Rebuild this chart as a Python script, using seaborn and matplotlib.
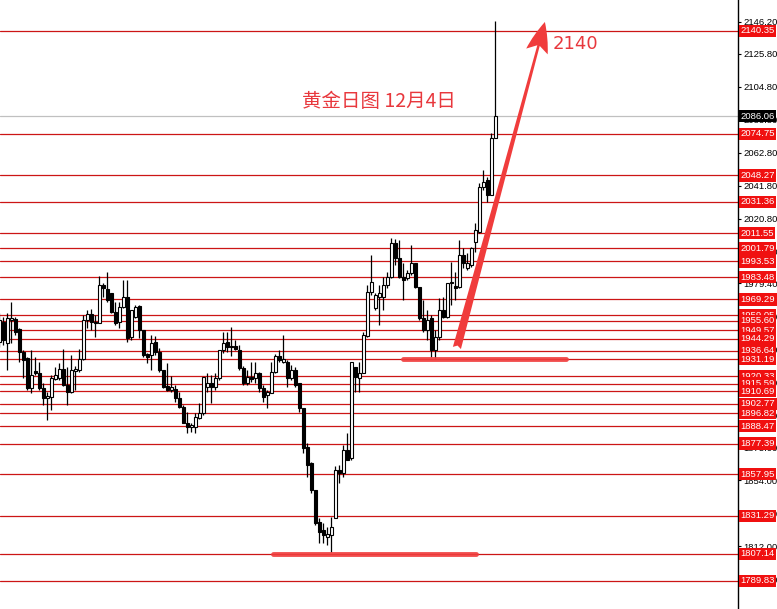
import numpy as np
import pandas as pd
import seaborn as sns
import matplotlib.pyplot as plt

# daily gold candles (open / high / low / close)
opens = [1942.3, 1955.1, 1941.3, 1956.1, 1956.6, 1950.2, 1935.9, 1931.7, 1912.6, 1923.6,
         1922.1, 1912.6, 1906.2, 1907.3, 1918.5, 1919.0, 1924.7, 1914.7, 1910.5, 1923.6,
         1924.3, 1931.1, 1956.1, 1960.0, 1954.7, 1954.4, 1978.5, 1975.7, 1973.1, 1961.5,
         1955.1, 1964.7, 1971.0, 1945.5, 1958.3, 1965.1, 1949.8, 1934.3, 1933.8, 1942.1,
         1935.9, 1924.3, 1914.3, 1911.5, 1911.9, 1906.2, 1900.9, 1890.7, 1888.1, 1888.1,
         1893.5, 1896.6, 1913.6, 1916.2, 1913.6, 1919.0, 1937.0, 1942.3, 1939.6, 1939.6,
         1937.0, 1925.5, 1916.0, 1919.9, 1919.2, 1922.4, 1912.8, 1908.3, 1909.6, 1923.0,
         1933.2, 1929.4, 1929.4, 1919.2, 1924.3, 1916.0, 1900.1, 1875.2, 1865.0, 1847.8,
         1827.4, 1822.3, 1817.8, 1819.1, 1829.9, 1860.5, 1858.6, 1873.3, 1868.2, 1926.2,
         1919.2, 1922.4, 1946.0, 1974.0, 1963.8, 1970.8, 1970.8, 1978.4, 1983.5, 2005.2,
         1995.6, 1983.5, 1982.9, 1986.1, 1992.5, 1977.2, 1957.4, 1949.7, 1957.4, 1937.0,
         1945.3, 1962.5, 1958.0, 1979.7, 1977.8, 1977.2, 1997.6, 1989.3, 1991.2, 2005.9,
         2012.2, 2040.9, 2045.4, 2035.8, 2072.1]
highs = [1960.4, 1958.3, 1960.4, 1967.8, 1958.3, 1950.8, 1937.0, 1932.8, 1937.0, 1932.8,
         1929.6, 1915.8, 1910.5, 1921.1, 1926.4, 1928.5, 1937.4, 1926.4, 1933.8, 1926.8,
         1937.4, 1959.3, 1962.5, 1962.9, 1959.3, 1984.2, 1979.9, 1987.0, 1973.1, 1967.8,
         1967.8, 1981.7, 1981.7, 1962.5, 1965.7, 1965.7, 1949.8, 1934.9, 1946.6, 1945.9,
         1938.1, 1924.3, 1928.5, 1920.4, 1914.7, 1910.5, 1901.9, 1897.7, 1890.3, 1896.6,
         1903.4, 1919.6, 1922.1, 1921.1, 1922.1, 1937.0, 1948.7, 1948.7, 1951.9, 1943.4,
         1940.2, 1926.8, 1924.3, 1929.4, 1929.4, 1923.0, 1914.7, 1911.5, 1929.4, 1934.5,
         1937.0, 1946.6, 1930.6, 1927.5, 1926.2, 1916.0, 1900.1, 1877.8, 1865.6, 1847.8,
         1829.9, 1826.7, 1824.2, 1830.6, 1863.1, 1863.7, 1876.5, 1884.1, 1929.4, 1926.2,
         1929.4, 1948.5, 1978.4, 1997.6, 1973.3, 1978.4, 1983.5, 1986.7, 2008.4, 2007.8,
         2007.1, 1992.5, 1988.0, 2003.9, 1992.5, 1977.2, 1968.9, 1962.5, 1959.3, 1949.7,
         1970.2, 1970.8, 1979.7, 1993.1, 1986.7, 2007.1, 2002.0, 1998.8, 2002.6, 2017.9,
         2043.4, 2051.7, 2047.3, 2075.3, 2146.7]
lows = [1939.1, 1940.2, 1924.3, 1941.3, 1946.6, 1929.6, 1919.0, 1911.5, 1909.4, 1921.1,
        1911.5, 1901.9, 1892.4, 1898.8, 1917.9, 1917.9, 1914.1, 1901.9, 1909.4, 1911.5,
        1923.2, 1930.6, 1950.8, 1949.8, 1945.1, 1954.0, 1971.0, 1967.8, 1960.4, 1953.0,
        1950.8, 1963.6, 1942.3, 1943.4, 1957.2, 1944.5, 1932.8, 1928.5, 1924.3, 1933.8,
        1923.2, 1912.6, 1911.1, 1910.5, 1904.1, 1899.8, 1890.3, 1883.9, 1885.0, 1883.9,
        1892.8, 1895.6, 1910.5, 1903.0, 1911.5, 1917.9, 1934.9, 1935.9, 1933.2, 1937.0,
        1924.3, 1914.7, 1914.7, 1916.6, 1916.0, 1910.2, 1903.9, 1900.1, 1909.6, 1922.4,
        1929.4, 1929.0, 1913.4, 1917.9, 1913.4, 1897.5, 1871.4, 1856.1, 1845.9, 1825.5,
        1814.0, 1814.0, 1812.7, 1808.2, 1829.9, 1852.2, 1856.1, 1866.9, 1866.9, 1910.2,
        1910.2, 1922.4, 1945.3, 1972.1, 1962.5, 1952.9, 1962.5, 1976.5, 1982.9, 1991.2,
        1982.9, 1968.9, 1981.6, 1984.8, 1976.5, 1956.1, 1948.5, 1943.4, 1932.5, 1931.9,
        1943.4, 1957.4, 1957.4, 1965.7, 1968.9, 1976.5, 1989.3, 1988.0, 1989.9, 1999.5,
        2011.6, 2039.0, 2031.3, 2035.8, 2072.1]
closes = [1956.1, 1943.4, 1957.2, 1957.2, 1948.7, 1935.9, 1930.6, 1912.6, 1921.1, 1922.1,
          1912.6, 1906.2, 1907.7, 1918.9, 1921.1, 1924.7, 1914.7, 1910.5, 1924.3, 1924.7,
          1931.1, 1956.1, 1960.0, 1955.1, 1954.0, 1978.5, 1976.3, 1968.9, 1961.5, 1954.0,
          1964.7, 1971.0, 1944.5, 1962.5, 1964.7, 1949.8, 1933.8, 1932.8, 1941.7, 1935.7,
          1924.3, 1913.6, 1911.5, 1913.2, 1906.2, 1900.9, 1890.7, 1888.1, 1889.2, 1894.1,
          1896.6, 1919.6, 1915.8, 1913.2, 1919.0, 1937.0, 1941.3, 1938.7, 1939.1, 1937.4,
          1925.5, 1916.0, 1919.8, 1918.6, 1922.4, 1912.8, 1907.1, 1910.2, 1923.0, 1933.2,
          1930.6, 1931.3, 1919.2, 1924.3, 1914.7, 1900.1, 1874.6, 1863.7, 1847.8, 1826.7,
          1821.0, 1819.1, 1819.7, 1824.2, 1860.5, 1858.6, 1873.3, 1866.9, 1929.4, 1919.8,
          1922.4, 1946.6, 1974.0, 1980.3, 1972.1, 1973.3, 1978.4, 1983.5, 2005.2, 1995.6,
          1983.5, 1981.6, 1986.1, 1992.5, 1977.2, 1957.4, 1949.7, 1956.1, 1937.0, 1945.3,
          1962.5, 1958.0, 1979.7, 1980.3, 1976.5, 1997.6, 1992.5, 1992.5, 2002.0, 2013.5,
          2040.9, 2044.1, 2035.8, 2072.1, 2086.06]

# support / resistance levels drawn across the chart
levels = [2140.35, 2074.75, 2048.27, 2031.36, 2011.55, 2001.79, 1993.53, 1983.48,
          1969.29, 1959.05, 1955.60, 1949.57, 1944.29, 1936.64, 1931.19, 1920.33,
          1915.59, 1910.69, 1902.77, 1896.82, 1888.47, 1877.39, 1857.95, 1831.29,
          1807.14, 1789.83]
last_price = 2086.06
axis_ticks = [2146.20, 2125.80, 2104.80, 2083.80, 2062.80, 2041.80, 2020.80, 1999.80,
              1979.40, 1958.40, 1937.40, 1916.40, 1895.40, 1875.00, 1854.00, 1833.00,
              1812.00, 1791.00]
title_text = '黄金日图 12月4日'
target_text = '2140'

df = pd.DataFrame({'open': opens, 'high': highs, 'low': lows, 'close': closes})
df['day'] = np.arange(len(df))
df['up'] = df['close'] >= df['open']

sns.set_theme(style='white')
plt.rcParams['font.family'] = ['Liberation Sans', 'DejaVu Sans', 'Noto Sans CJK SC']

fig = plt.figure(figsize=(7.77, 6.09), dpi=100)
ax = fig.add_axes([0, 0, 738 / 777, 1])

# level lines
for p in levels:
    ax.axhline(p, color='#cc1515', lw=0.9, zorder=1)
ax.axhline(last_price, color='#c0c0c0', lw=0.9, zorder=1)

# candles
ax.vlines(df['day'], df['low'], df['high'], color='black', lw=0.9, zorder=3)
body = (df['close'] - df['open']).abs().clip(lower=0.5)
ax.bar(df['day'], body, bottom=df[['open', 'close']].min(axis=1), width=0.7,
       color=np.where(df['up'], 'white', 'black'), edgecolor='black', linewidth=0.8, zorder=4)

# thick support marks
ax.plot([100.9, 141.7], [1931.0, 1931.0], color='#f03c3c', lw=3.5, solid_capstyle='round', alpha=0.9, zorder=5)
ax.plot([68.4, 119.2], [1807.2, 1807.2], color='#f03c3c', lw=3.5, solid_capstyle='round', alpha=0.9, zorder=5)

# target arrow
ax.annotate('', xy=(136.4, 2146.1), xytext=(114.4, 1938.3),
            arrowprops=dict(arrowstyle='fancy,head_length=0.55,head_width=0.4,tail_width=0.15',
                            color='#f03c3c', mutation_scale=40, shrinkA=0, shrinkB=0, lw=0),
            zorder=6)
ax.text(138.4, 2132.1, target_text, color='#e8383d', fontsize=13, va='center', ha='left',
        family=['DejaVu Sans'], zorder=6)
ax.text(75.7, 2095.1, title_text, color='#e8383d', fontsize=14, va='center', ha='left',
        family=['Noto Sans CJK SC', 'DejaVu Sans'], zorder=6)

ax.set_xlim(0.175, 0.175 + 738 / 4)
ax.set_ylim(2160.1 - 0.6374 * 609, 2160.1)

ax.set_xticks([])
ax.set_yticks(axis_ticks)
ax.set_yticklabels([f'{t:.2f}' for t in axis_ticks])
ax.yaxis.tick_right()
ax.tick_params(axis='y', right=True, left=False, length=2.5, width=0.8, pad=1.2,
               labelsize=6.8, colors='black')
for side in ['left', 'top', 'bottom']:
    ax.spines[side].set_visible(False)
ax.spines['right'].set_color('black')
ax.spines['right'].set_linewidth(1)

# price labels on the axis
trans = ax.get_yaxis_transform()
for p in levels:
    ax.text(1.003, p, f'{p:.2f}', transform=trans, ha='left', va='center', fontsize=6.8,
            color='white', clip_on=False, zorder=7,
            bbox=dict(boxstyle='square,pad=0.18', fc='#f01010', ec='none'))
ax.text(1.003, last_price, f'{last_price:.2f}', transform=trans, ha='left', va='center',
        fontsize=6.8, color='white', clip_on=False, zorder=8,
        bbox=dict(boxstyle='square,pad=0.18', fc='black', ec='none'))

fig.savefig('out.png', dpi=100)
